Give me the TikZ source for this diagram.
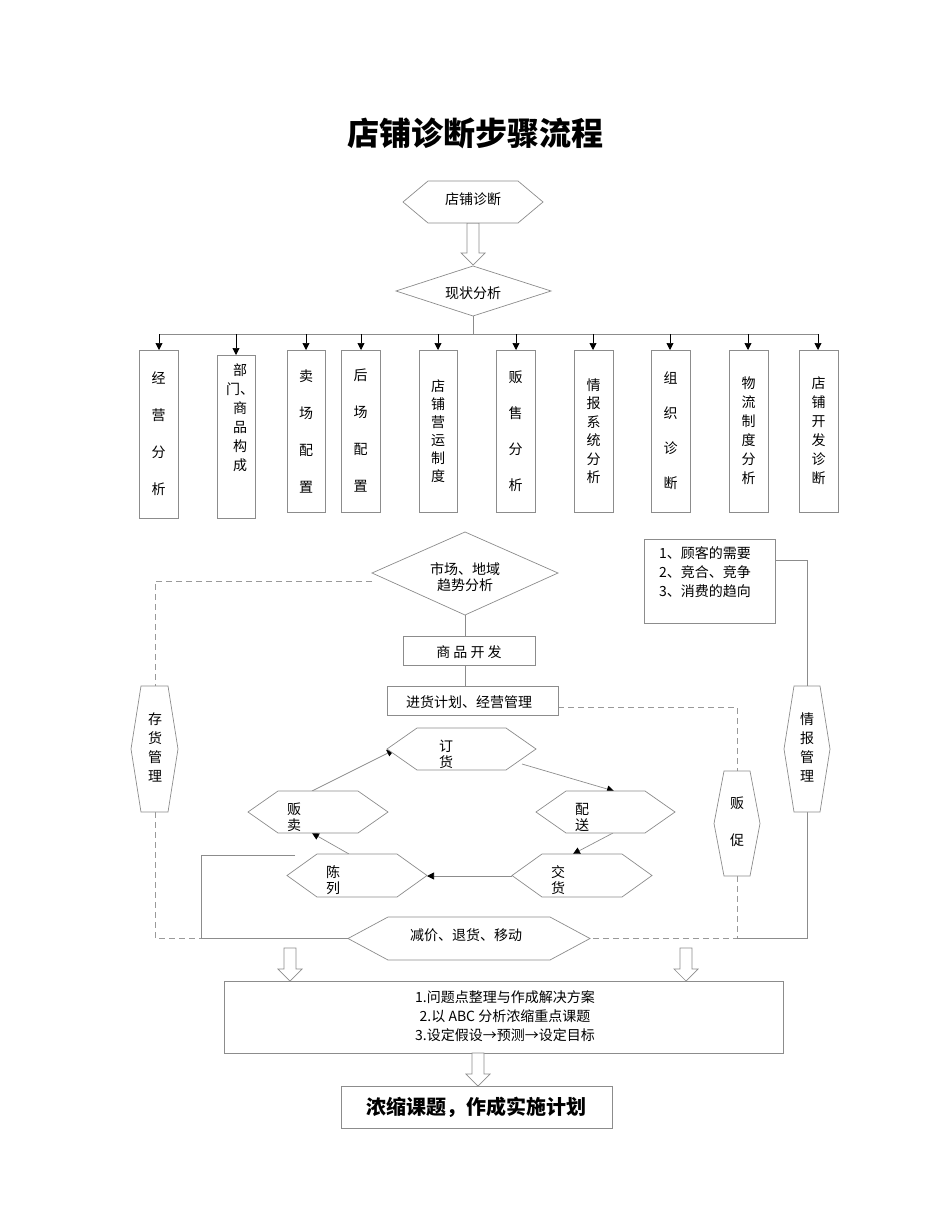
\documentclass[tikz,border=0pt]{standalone}
\usepackage{fontspec}
\setmainfont{Noto Sans CJK SC}
\usetikzlibrary{arrows.meta}
\tikzset{
  ln/.style={draw=black!45, line width=0.7pt},
  dl/.style={draw=black!40, line width=0.7pt, dash pattern=on 6pt off 4pt},
  tip/.style={-{Triangle[length=7pt,width=7pt,color=black]}},
  txt/.style={font=\fontsize{14}{16}\selectfont, inner sep=0pt}
}
\newcommand\hexS[5]{\draw[ln,fill=white] ({#1},{(#2+#4)/2}) -- ({#1+#5},#2) -- ({#3-#5},#2) -- (#3,{(#2+#4)/2}) -- ({#3-#5},#4) -- ({#1+#5},#4) -- cycle;}
\newcommand\hollowArrow[3]{\draw[ln,fill=white] ({#1-6},#2) -- ({#1+6},#2) -- ({#1+6},{#3-12}) -- ({#1+12},{#3-12}) -- (#1,#3) -- ({#1-12},{#3-12}) -- ({#1-6},{#3-12}) -- cycle;}
\newcommand\vertBox[6]{\draw[ln] (#1,#2) rectangle (#3,#4);
  \node[inner sep=0pt, align=center, font=\fontsize{14}{#5}\selectfont] at ({(#1+#3)/2},{(#2+#4)/2}) {#6};}
\begin{document}
\begin{tikzpicture}[x=1pt,y=-1pt]
\useasboundingbox (0,0) rectangle (950,1230);
\node[font=\fontsize{32}{36}\bfseries\selectfont] (title) at (475,133) {店铺诊断步骤流程};
% top
\hollowArrow{473}{223}{265}
\hexS{403}{181}{543}{223}{25}
\node[txt] (s1) at (473,199) {店铺诊断};
\draw[ln,fill=white] (396,291) -- (473,266) -- (551,291) -- (473,316) -- cycle;
\node[txt] (s2) at (473,293) {现状分析};
\coordinate (bj) at (473,334);
\draw[ln] (473,316) -- (bj);
\draw[ln] (159,334) -- (818,334);
\foreach \x/\t in {159/350,236/355,306/350,361/350,438/350,516/350,593/350,670/350,748/350,818/350}
  \draw[ln,tip,draw=black] (\x,334) -- (\x,\t);
\vertBox{139}{350}{178}{518}{37}{经\\营\\分\\析}
\draw[ln] (217,355) rectangle (255,518);
\node[inner sep=0pt, align=center, font=\fontsize{14}{19}\selectfont] at (240,418) {部\\门、\\商\\品\\构\\成};
\vertBox{287}{350}{325}{512}{37}{卖\\场\\配\\置}
\vertBox{341}{350}{380}{512}{37}{后\\场\\配\\置}
\vertBox{419}{350}{457}{512}{18}{店\\铺\\营\\运\\制\\度}
\vertBox{496}{350}{535}{512}{36}{贩\\售\\分\\析}
\vertBox{574}{350}{613}{512}{18.5}{情\\报\\系\\统\\分\\析}
\vertBox{651}{350}{690}{512}{35}{组\\织\\诊\\断}
\vertBox{729}{350}{768}{512}{19}{物\\流\\制\\度\\分\\析}
\vertBox{799}{350}{838}{512}{19}{店\\铺\\开\\发\\诊\\断}
% middle
\draw[dl] (372,581) -- (155,581) -- (155,686);
\draw[dl] (155,812) -- (155,938) -- (201,938);
\draw[ln] (201,938) -- (348,938);
\draw[ln] (295,855) -- (201,855) -- (201,938);
\draw[dl] (558,707) -- (737,707) -- (737,771);
\draw[dl] (737,876) -- (737,938) -- (590,938);
\draw[ln] (775,560) -- (807,560) -- (807,686);
\draw[ln] (807,812) -- (807,938) -- (737,938);
\draw[ln,fill=white] (372,573) -- (465,532) -- (558,573) -- (465,615) -- cycle;
\node[txt,align=center] (m1) at (465,577) {市场、地域\\趋势分析};
\draw[ln] (465,615) -- (465,636);
\draw[ln] (403,636) rectangle (535,665);
\node[txt] (m2) at (469,652) {商\ 品\ 开\ 发};
\draw[ln] (465,665) -- (465,686);
\draw[ln,fill=white] (387,686) rectangle (558,715);
\node[txt] (m3) at (469,702) {进货计划、经营管理};
\draw[ln] (644,539) rectangle (775,623);
\node[txt,align=left,anchor=north west,font=\fontsize{14}{19}\selectfont] (m4) at (659,546) {1、顾客的需要\\2、竞合、竞争\\3、消费的趋向};
\hexS{131}{686}{178}{812}{10}
\node[inner sep=0pt, align=center, font=\fontsize{14}{19}\selectfont] at (155,747) {存\\货\\管\\理};
\hexS{784}{686}{830}{812}{10}
\node[inner sep=0pt, align=center, font=\fontsize{14}{19}\selectfont] at (807,747) {情\\报\\管\\理};
\hexS{714}{771}{760}{876}{10}
\node[inner sep=0pt, align=center, font=\fontsize{14}{37}\selectfont] at (737,822) {贩\\促};
% cycle
\draw[ln,tip] (522,764) -- (614,791);
\draw[ln,tip] (613,833) -- (573,854);
\draw[ln,tip] (512,876) -- (427,876);
\draw[ln,tip] (349,854) -- (312,833);
\draw[ln,tip] (312,791) -- (394,750);
\hexS{387}{728}{536}{770}{30}
\node[txt,align=center] (c1) at (446,754) {订\\货};
\hexS{536}{791}{675}{833}{30}
\node[txt,align=center] (c2) at (582,817) {配\\送};
\hexS{512}{854}{652}{897}{30}
\node[txt,align=center] (c3) at (558,880) {交\\货};
\hexS{287}{854}{427}{897}{30}
\node[txt,align=center] (c4) at (333,880) {陈\\列};
\hexS{248}{791}{388}{833}{30}
\node[txt,align=center] (c5) at (294,817) {贩\\卖};
\hexS{348}{917}{590}{960}{40}
\node[txt] (c6) at (466,935) {减价、退货、移动};
% bottom
\hollowArrow{290}{948}{981}
\hollowArrow{686}{948}{981}
\draw[ln] (224,981) rectangle (783,1053);
\node[txt,align=center,font=\fontsize{14}{19}\selectfont] (b1) at (505,1016) {1.问题点整理与作成解决方案\\2.以 ABC 分析浓缩重点课题\\3.设定假设→预测→设定目标};
\hollowArrow{478}{1053}{1086}
\draw[ln] (341,1086) rectangle (612,1128);
\node[font=\fontsize{20}{22}\bfseries\selectfont] (b2) at (476,1107) {浓缩课题，作成实施计划};
\end{tikzpicture}
\end{document}
